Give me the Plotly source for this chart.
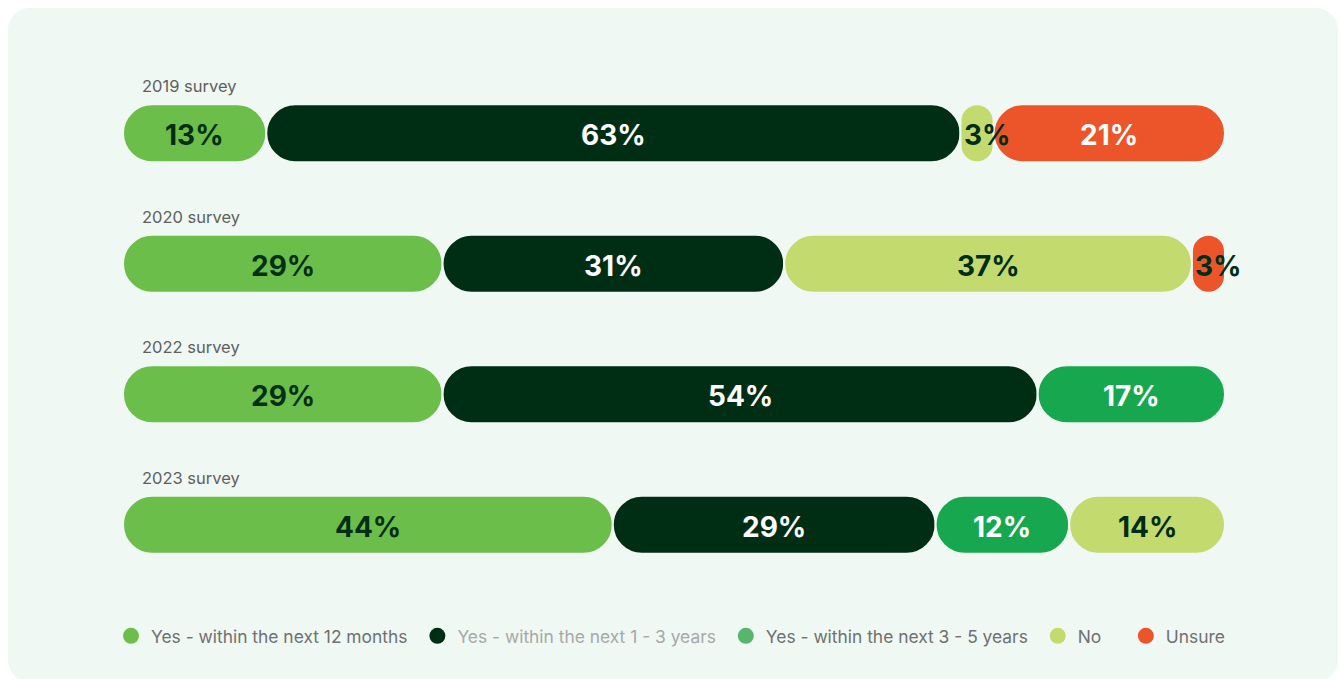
import plotly.graph_objects as go

# Survey rows (top to bottom)
surveys = ["2019 survey", "2020 survey", "2022 survey", "2023 survey"]

# Share of respondents per answer, in percent (None = answer not offered)
next_12_months = [13, 29, 29, 44]
next_1_3_years = [63, 31, 54, 29]
next_3_5_years = [None, None, 17, 12]
answer_no = [3, 37, None, 14]
answer_unsure = [21, 3, None, None]

series = [
    ("Yes - within the next 12 months", next_12_months, "#6CBE4B", "#6CBE4B", "#002E14", "#707070"),
    ("Yes - within the next 1 - 3 years", next_1_3_years, "#002E14", "#002E14", "#FFFFFF", "#A8A8A8"),
    ("Yes - within the next 3 - 5 years", next_3_5_years, "#17A84F", "#57B56C", "#FFFFFF", "#707070"),
    ("No", answer_no, "#C3DA6F", "#C3DA6F", "#002E14", "#707070"),
    ("Unsure", answer_unsure, "#EC552A", "#EC552A", "#FFFFFF", "#707070"),
]

PANEL = "#EFF8F3"
DARK = "#002E14"
NBSP = "\u00a0"

W, H = 1340, 679
ML, MR, MT, MB = 123, 115, 68, 89
PW, PH = W - ML - MR, H - MT - MB

# row totals, so every row fills the full 100% width
totals = [sum(s[1][i] or 0 for s in series) for i in range(len(surveys))]

fig = go.Figure()
running = [0.0] * len(surveys)
for k_s, (name, vals, color, legend_color, txt_color, legend_txt) in enumerate(series):
    xs, bases, ys = [], [], []
    for i, v in enumerate(vals):
        if v is None:
            continue
        share = v / totals[i] * 100
        xs.append(share)
        bases.append(running[i])
        ys.append(surveys[i])
        if share < 5:
            # narrow segment: label starts at the segment edge and spills over
            lx, anchor, lcol = running[i], "left", DARK
        else:
            lx, anchor, lcol = running[i] + share / 2, "center", txt_color
        fig.add_annotation(
            x=lx, y=i, xref="x", yref="y", text=f"{v}%", showarrow=False,
            xanchor=anchor, yanchor="middle", yshift=-2, xshift=1 if anchor == "left" else 0,
            font=dict(family="Inter", size=28, weight=700, color=lcol),
        )
        running[i] += share
    fig.add_trace(go.Bar(
        x=xs, y=ys, base=bases, orientation="h",
        width=0.445,
        marker=dict(color=color, cornerradius="50%",
                    line=dict(color=PANEL, width=2)),
        showlegend=False, hoverinfo="skip", name=name,
    ))
    pad = NBSP * (4 if name == "No" else 1) if k_s < len(series) - 1 else ""
    fig.add_trace(go.Scatter(
        x=[None], y=[None], mode="markers",
        name=f"<span style='color:{legend_txt}'>{name}</span>{pad}",
        marker=dict(color=legend_color, size=18, symbol="circle"),
        showlegend=True, hoverinfo="skip",
    ))

# survey captions above each row
for i, s in enumerate(surveys):
    fig.add_annotation(
        x=(140 - ML) / PW, xref="paper", y=i, yref="y",
        text=s, showarrow=False, xanchor="left", yanchor="middle",
        yshift=47, font=dict(family="Inter", size=16.5, color="#5F5F5F"),
    )

# rounded light panel behind the chart
px0, px1, py0, py1, r = 8, 1338, 8, 682, 22
def fx(p): return (p - ML) / PW
def fy(p): return (H - MB - p) / PH
rx, ry = r / PW, r / PH
x0, x1, y0, y1 = fx(px0), fx(px1), fy(py1), fy(py0)
k = 0.5523
path = (
    f"M {x0+rx},{y1} L {x1-rx},{y1} "
    f"C {x1-rx+k*rx},{y1} {x1},{y1-ry+k*ry} {x1},{y1-ry} "
    f"L {x1},{y0+ry} "
    f"C {x1},{y0+ry-k*ry} {x1-rx+k*rx},{y0} {x1-rx},{y0} "
    f"L {x0+rx},{y0} "
    f"C {x0+rx-k*rx},{y0} {x0},{y0+ry-k*ry} {x0},{y0+ry} "
    f"L {x0},{y1-ry} "
    f"C {x0},{y1-ry+k*ry} {x0+rx-k*rx},{y1} {x0+rx},{y1} Z"
)
fig.add_shape(type="path", path=path, xref="paper", yref="paper",
              fillcolor=PANEL, line=dict(width=0), layer="below")

fig.update_layout(
    width=W, height=H,
    margin=dict(l=ML, r=MR, t=MT, b=MB),
    paper_bgcolor="#FFFFFF", plot_bgcolor="rgba(0,0,0,0)",
    barmode="overlay",
    xaxis=dict(range=[0, 100], visible=False, fixedrange=True),
    yaxis=dict(type="category", categoryorder="array", categoryarray=surveys,
               range=[3.5, -0.5], visible=False, fixedrange=True),
    legend=dict(orientation="h", x=(111 - ML) / PW, xanchor="left",
                y=fy(636), yanchor="middle", bgcolor="rgba(0,0,0,0)",
                font=dict(family="Inter", size=17.4, color="#707070"),
                itemclick=False, itemdoubleclick=False),
    font=dict(family="Inter"),
    showlegend=True,
)

fig.write_html("out.html", config={"displayModeBar": False})
